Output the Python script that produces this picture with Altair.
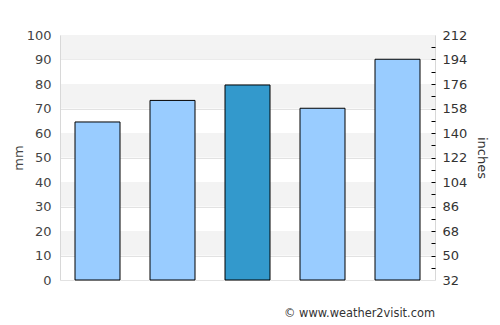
import altair as alt
import pandas as pd

months = ["Apr", "May", "Jun", "Jul", "Aug"]
rain_mm = [64.5, 73.3, 79.6, 70.1, 90.1]
highlight = [False, False, True, False, False]
band_low = [10, 30, 50, 70, 90]
band_high = [20, 40, 60, 80, 100]
left_ticks = [0, 10, 20, 30, 40, 50, 60, 70, 80, 90, 100]
right_minor = [5, 10, 15, 20, 25, 30, 35, 40, 45, 50, 55, 60, 65, 70, 75, 80, 85, 90, 95]
credit = "© www.weather2visit.com"

FONT = "DejaVu Sans"
bars_df = pd.DataFrame({"month": months, "mm": rain_mm, "hl": highlight})
bands_df = pd.DataFrame({"lo": band_low, "hi": band_high})

yscale = alt.Scale(domain=[0, 100], nice=False, zero=True)
xscale = alt.Scale(domain=months, paddingInner=0.4, paddingOuter=0.2)

bands = alt.Chart(bands_df).mark_rect(color="#f3f3f3").encode(
    y=alt.Y("lo:Q", scale=yscale,
            axis=alt.Axis(orient="left", title="mm", values=left_ticks, grid=True,
                          gridColor="#e2e2e2", tickSize=0, labelPadding=9,
                          domain=False, labelFont=FONT, labelFontSize=13,
                          labelColor="#444", titleFont=FONT, titleFontSize=13,
                          titleFontWeight="normal", titleColor="#444", titlePadding=1)),
    y2="hi:Q",
    x=alt.value(0), x2=alt.value(375),
)

left_domain = alt.Chart(bars_df).mark_bar(opacity=0).encode(
    x=alt.X("month:N", scale=xscale, sort=months, axis=None),
    y=alt.Y("mm:Q", scale=yscale,
            axis=alt.Axis(orient="left", title=None, labels=False, ticks=False,
                          grid=False, domain=True, domainColor="#d8d8d8", zindex=1)),
)

bars = alt.Chart(bars_df).mark_bar(stroke="black", strokeWidth=1).encode(
    x=alt.X("month:N", scale=xscale, sort=months,
            axis=alt.Axis(title=None, labelAngle=0, tickSize=0, labelPadding=10,
                          domainColor="#d8d8d8", labelFont=FONT, labelFontSize=13,
                          labelColor="#444")),
    y=alt.Y("mm:Q", scale=yscale, axis=None),
    color=alt.Color("hl:N", scale=alt.Scale(domain=[False, True], range=["#99ccff", "#3399cc"]),
                    legend=None),
)

right_ticks = alt.Chart(bars_df).mark_bar(opacity=0).encode(
    x=alt.X("month:N", scale=xscale, sort=months, axis=None),
    y=alt.Y("mm:Q", scale=yscale,
            axis=alt.Axis(orient="right", title=None, values=right_minor, labels=False,
                          domain=False, grid=False, tickSize=4, tickColor="#000",
                          offset=-4, zindex=2)),
)

right_labels = alt.Chart(bars_df).mark_bar(opacity=0).encode(
    x=alt.X("month:N", scale=xscale, sort=months, axis=None),
    y=alt.Y("mm:Q", scale=yscale,
            axis=alt.Axis(orient="right", title="inches", values=left_ticks,
                          labelExpr="format(32 + 1.8 * datum.value, 'd')",
                          domain=True, domainColor="#d8d8d8", grid=False, tickSize=0,
                          labelPadding=7, labelFont=FONT, labelFontSize=13,
                          labelColor="#333", titleFont=FONT, titleFontSize=13,
                          titleFontWeight="normal", titleColor="#333", titlePadding=8,
                          zindex=1)),
)

credit_layer = alt.Chart(pd.DataFrame({"t": [credit]})).mark_text(
    align="right", baseline="alphabetic", font=FONT, fontSize=11.4, color="#333"
).encode(text="t:N", x=alt.value(375), y=alt.value(282))

chart = alt.layer(bands, left_domain, bars, right_ticks, right_labels, credit_layer).resolve_scale(
    y="shared", x="shared"
).resolve_axis(y="independent").properties(
    width=375, height=245,
    autosize=alt.AutoSizeParams(type="none"),
    padding={"left": 60, "top": 35, "right": 65, "bottom": 45},
).configure_view(stroke=None)

chart.save("out.html", embed_options={"renderer": "svg", "actions": False})
